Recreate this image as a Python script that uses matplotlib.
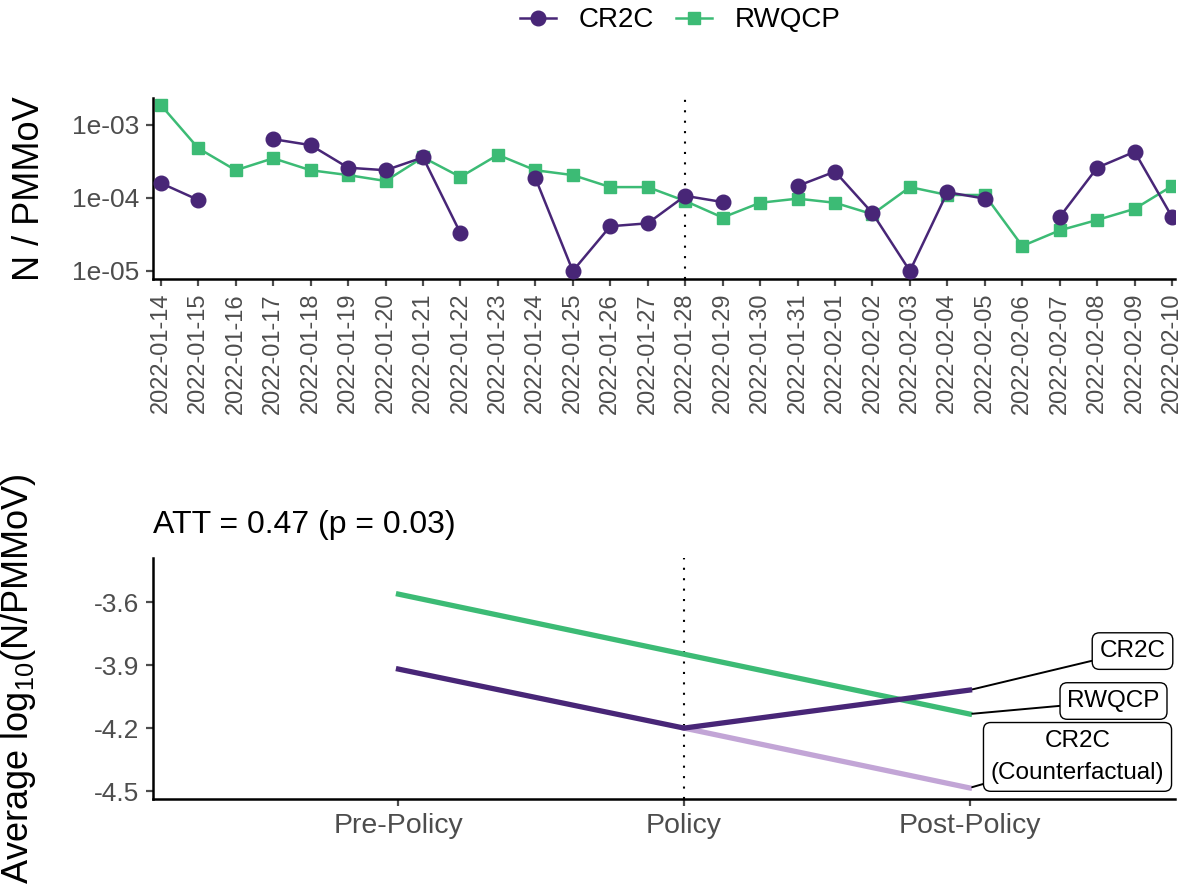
import numpy as np
import pandas as pd
import matplotlib
matplotlib.use('Agg')
import matplotlib.pyplot as plt

plt.rcParams['font.family'] = ['Liberation Sans', 'DejaVu Sans']
plt.rcParams['mathtext.fontset'] = 'custom'
plt.rcParams['mathtext.rm'] = 'Liberation Sans'

# top panel data (NaN = no sample)
dates = pd.date_range('2022-01-14', '2022-02-10').strftime('%Y-%m-%d').tolist()
cr2c = [1.6e-4, 9.4e-5, np.nan, 6.4e-4, 5.3e-4, 2.6e-4, 2.4e-4, 3.6e-4, 3.3e-5, np.nan,
        1.88e-4, 1.0e-5, 4.1e-5, 4.5e-5, 1.07e-4, 8.8e-5, np.nan, 1.46e-4, 2.3e-4, 6.2e-5,
        1.0e-5, 1.2e-4, 9.8e-5, np.nan, 5.5e-5, 2.6e-4, 4.3e-4, 5.5e-5]
rwqcp = [1.88e-3, 4.8e-4, 2.4e-4, 3.5e-4, 2.4e-4, 2.06e-4, 1.71e-4, 3.6e-4, 1.94e-4, 3.9e-4,
         2.4e-4, 2.06e-4, 1.41e-4, 1.41e-4, 9.1e-5, 5.4e-5, 8.6e-5, 9.8e-5, 8.6e-5, 6.0e-5,
         1.41e-4, 1.1e-4, 1.1e-4, 2.2e-5, 3.6e-5, 5.0e-5, 7.1e-5, 1.46e-4]
policy_date = '2022-01-28'

# bottom panel data
periods = ['Pre-Policy', 'Policy', 'Post-Policy']
avg_cr2c = [-3.919, -4.200, -4.019]
avg_rwqcp = [-3.562, -3.848, -4.133]
avg_cf = [np.nan, -4.200, -4.485]
att_text = 'ATT = 0.47 (p = 0.03)'

purple = '#482677'
green = '#3CBB75'
light = '#C2A5D6'
gray = '#4D4D4D'

fig = plt.figure(figsize=(11.83, 8.9), dpi=100)
ax1 = fig.add_axes([0.1293, 0.6865, 0.8640, 0.2034])
ax2 = fig.add_axes([0.1293, 0.1022, 0.8640, 0.2708])

x = np.arange(len(dates))
ax1.plot(x, cr2c, color=purple, lw=1.8, marker='o', ms=10.5, label='CR2C', zorder=3)
ax1.plot(x, rwqcp, color=green, lw=1.8, marker='s', ms=8.5, label='RWQCP', zorder=2)
ax1.axvline(dates.index(policy_date), color='black', ls=(0, (1, 4)), lw=1.5, zorder=1)
ax1.set_yscale('log')
ax1.set_ylim(10**-5.11, 10**-2.63)
ax1.set_xlim(-0.21, len(dates) - 0.92)
ax1.set_yticks([1e-5, 1e-4, 1e-3])
ax1.set_yticklabels(['1e-05', '1e-04', '1e-03'])
ax1.yaxis.set_minor_locator(matplotlib.ticker.NullLocator())
ax1.set_xticks(x)
ax1.set_xticklabels(dates, rotation=90)
ax1.set_ylabel('N / PMMoV', fontsize=26)

xi = np.arange(1, len(periods) + 1)
ax2.plot(xi, avg_cf, color=light, lw=3.8, zorder=2)
ax2.plot(xi, avg_rwqcp, color=green, lw=3.8, zorder=3)
ax2.plot(xi, avg_cr2c, color=purple, lw=3.8, zorder=4)
ax2.axvline(2, color='black', ls=(0, (1, 4)), lw=1.5, zorder=1)
ax2.set_xlim(0.14, 3.72)
ax2.set_ylim(-4.538, -3.39)
ax2.set_yticks([-4.5, -4.2, -3.9, -3.6])
ax2.set_yticklabels(['-4.5', '-4.2', '-3.9', '-3.6'])
ax2.set_xticks(xi)
ax2.set_xticklabels(periods)
ax2.set_ylabel('Average $\\mathregular{log_{10}}$(N/PMMoV)', fontsize=26)
ax2.set_title(att_text, loc='left', fontsize=23, pad=18)

box = dict(boxstyle='round,pad=0.3,rounding_size=0.3', fc='white', ec='black', lw=1)
arrow = dict(arrowstyle='-', color='black', lw=1.4, shrinkA=0, shrinkB=2)
ax2.annotate('CR2C', (3, avg_cr2c[2]), xytext=(163, 39), textcoords='offset pixels',
             ha='center', va='center', fontsize=17.5, bbox=box, arrowprops=arrow)
ax2.annotate('RWQCP', (3, avg_rwqcp[2]), xytext=(144, 13), textcoords='offset pixels',
             ha='center', va='center', fontsize=17.5, bbox=box, arrowprops=arrow)
ax2.annotate('CR2C\n(Counterfactual)', (3, avg_cf[2]), xytext=(108, 31), textcoords='offset pixels',
             ha='center', va='center', fontsize=17.5, bbox=box, arrowprops=arrow, linespacing=1.6)

for ax in (ax1, ax2):
    for s in ('top', 'right'):
        ax.spines[s].set_visible(False)
    for s in ('left', 'bottom'):
        ax.spines[s].set_linewidth(1.8)
    ax.tick_params(colors=gray, width=1.6, length=5, labelsize=19, pad=5)
ax1.tick_params(axis='x', labelsize=17)
ax2.tick_params(axis='x', labelsize=20.5)
ax1.yaxis.set_label_coords(-0.104, 0.5)
ax2.yaxis.set_label_coords(-0.112, 0.5)

h, l = ax1.get_legend_handles_labels()
fig.legend(h, l, loc='center', bbox_to_anchor=(0.575, 0.977), ncol=2, frameon=False,
           fontsize=20, handlelength=1.3, columnspacing=0.8, handletextpad=0.8)

fig.savefig('out.png', dpi=100)
